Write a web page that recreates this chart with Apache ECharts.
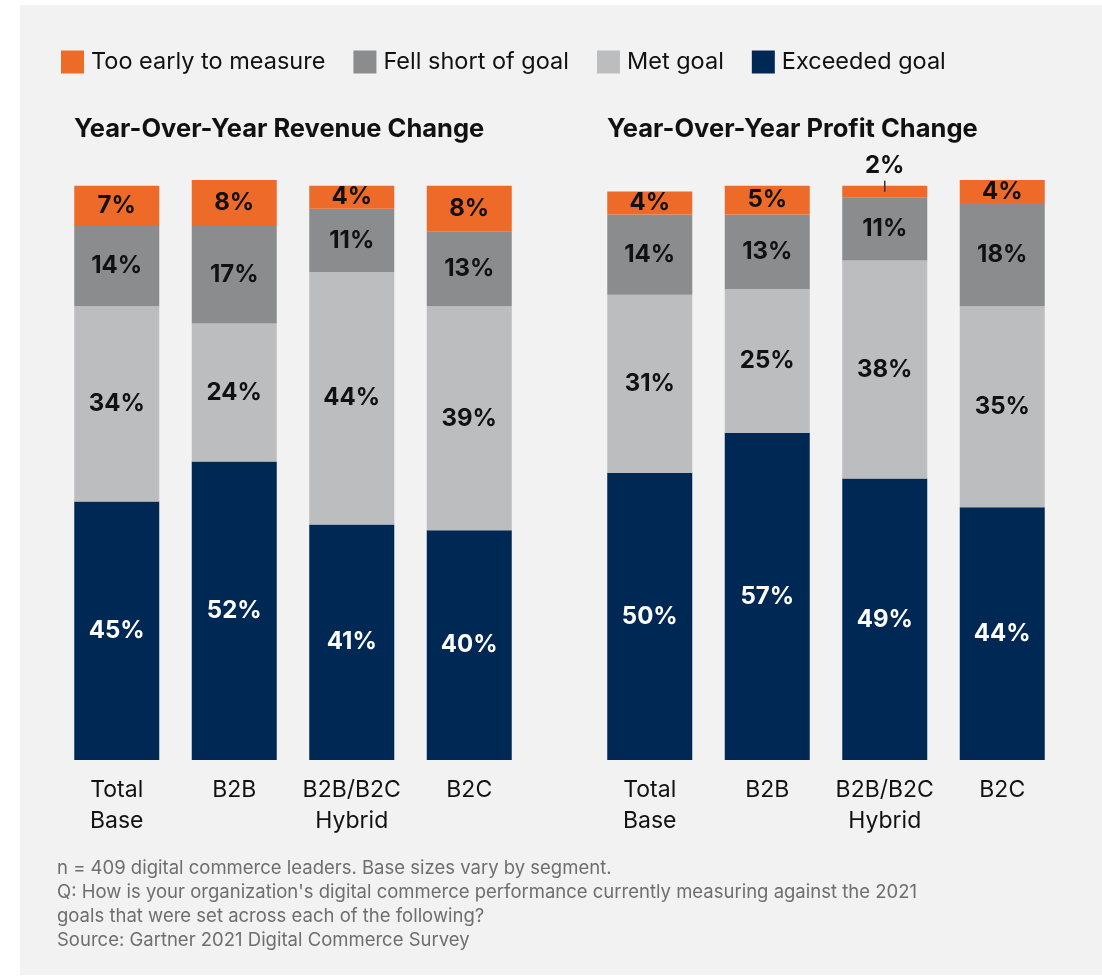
<!DOCTYPE html>
<html>
<head>
<meta charset="utf-8">
<script src="https://cdn.jsdelivr.net/npm/echarts@6/dist/echarts.min.js"></script>
<style>
  html, body { margin: 0; padding: 0; background: #ffffff; }
  #chart { width: 1102px; height: 978px; }
</style>
</head>
<body>
<div id="chart"></div>
<script>
// Segments and categories
const categories = ['Total\nBase', 'B2B', 'B2B/B2C\nHybrid', 'B2C'];
const seriesNames = ['Too early to measure', 'Fell short of goal', 'Met goal', 'Exceeded goal'];

// Year-over-year revenue change (%)
const revenueExceeded = [45, 52, 41, 40];
const revenueMet = [34, 24, 44, 39];
const revenueFellShort = [14, 17, 11, 13];
const revenueTooEarly = [7, 8, 4, 8];

// Year-over-year profit change (%)
const profitExceeded = [50, 57, 49, 44];
const profitMet = [31, 25, 38, 35];
const profitFellShort = [14, 13, 11, 18];
const profitTooEarly = [4, 5, 2, 4];

const footnote = [
  'n = 409 digital commerce leaders. Base sizes vary by segment.',
  "Q: How is your organization's digital commerce performance currently measuring against the 2021",
  'goals that were set across each of the following?',
  'Source: Gartner 2021 Digital Commerce Survey'
];

const COLORS = {
  tooEarly: '#ED6A28',
  fellShort: '#8B8C8E',
  met: '#BCBDBF',
  exceeded: '#002855'
};
const FONT = 'Inter, "Noto Sans", sans-serif';

function valueLabel(color) {
  return {
    show: true,
    position: 'inside',
    formatter: '{c}%',
    color: color,
    fontFamily: FONT,
    fontWeight: 'bold',
    fontSize: 24
  };
}

function makeSeries(gridIdx, exceeded, met, fellShort, tooEarly) {
  const stack = 'g' + gridIdx;
  const common = {
    type: 'bar',
    stack: stack,
    xAxisIndex: gridIdx,
    yAxisIndex: gridIdx,
    barWidth: 85
  };
  // very thin top segments get their label lifted above the bar with a short tick
  const topData = tooEarly.map(v => {
    if (v >= 3) return v;
    return {
      value: v,
      label: {
        position: 'top',
        distance: -6,
        formatter: '{v|{c}%}\n{t|}',
        rich: {
          v: { fontFamily: FONT, fontWeight: 'bold', fontSize: 24, color: '#111', lineHeight: 30, align: 'center' },
          t: { width: 1.5, height: 11, backgroundColor: '#333', align: 'center' }
        }
      }
    };
  });
  return [
    Object.assign({}, common, { name: seriesNames[3], data: exceeded, itemStyle: { color: COLORS.exceeded }, label: valueLabel('#ffffff') }),
    Object.assign({}, common, { name: seriesNames[2], data: met, itemStyle: { color: COLORS.met }, label: valueLabel('#111111') }),
    Object.assign({}, common, { name: seriesNames[1], data: fellShort, itemStyle: { color: COLORS.fellShort }, label: valueLabel('#111111') }),
    Object.assign({}, common, { name: seriesNames[0], data: topData, itemStyle: { color: COLORS.tooEarly }, label: valueLabel('#111111') })
  ];
}

function xAxisFor(gridIdx) {
  return {
    type: 'category',
    gridIndex: gridIdx,
    data: categories,
    axisLine: { show: false },
    axisTick: { show: false },
    axisLabel: {
      margin: 15,
      color: '#111',
      fontFamily: FONT,
      fontSize: 23,
      lineHeight: 31,
      interval: 0
    }
  };
}

function yAxisFor(gridIdx) {
  return { type: 'value', gridIndex: gridIdx, min: 0, max: 101, show: false };
}

const chart = echarts.init(document.getElementById('chart'), null, { renderer: 'canvas' });

chart.setOption({
  backgroundColor: '#ffffff',
  animation: false,
  graphic: [
    { type: 'rect', z: -10, shape: { x: 20, y: 5, width: 1082, height: 970 }, style: { fill: '#F2F2F2' } },
    {
      type: 'text', left: 57, top: 857,
      style: {
        text: footnote.join('\n'),
        fill: '#6E6E6E',
        font: '18.5px ' + FONT,
        lineHeight: 23.7
      }
    }
  ],
  title: [
    { text: 'Year-Over-Year Revenue Change', left: 69, top: 111,
      textStyle: { fontFamily: FONT, fontWeight: 'bold', fontSize: 25.5, color: '#111' } },
    { text: 'Year-Over-Year Profit Change', left: 602, top: 111,
      textStyle: { fontFamily: FONT, fontWeight: 'bold', fontSize: 25.5, color: '#111' } }
  ],
  legend: {
    data: seriesNames,
    left: 61,
    top: 50,
    padding: 0,
    icon: 'rect',
    itemWidth: 23,
    itemHeight: 23,
    itemGap: 28,
    textStyle: { fontFamily: FONT, fontSize: 23.5, color: '#111', padding: [0, 0, 0, 2] },
    selectedMode: false
  },
  grid: [
    { left: 58, width: 470, top: 180, height: 580 },
    { left: 591, width: 470, top: 180, height: 580 }
  ],
  xAxis: [xAxisFor(0), xAxisFor(1)],
  yAxis: [yAxisFor(0), yAxisFor(1)],
  series: [
    ...makeSeries(0, revenueExceeded, revenueMet, revenueFellShort, revenueTooEarly),
    ...makeSeries(1, profitExceeded, profitMet, profitFellShort, profitTooEarly)
  ]
});
</script>
</body>
</html>
